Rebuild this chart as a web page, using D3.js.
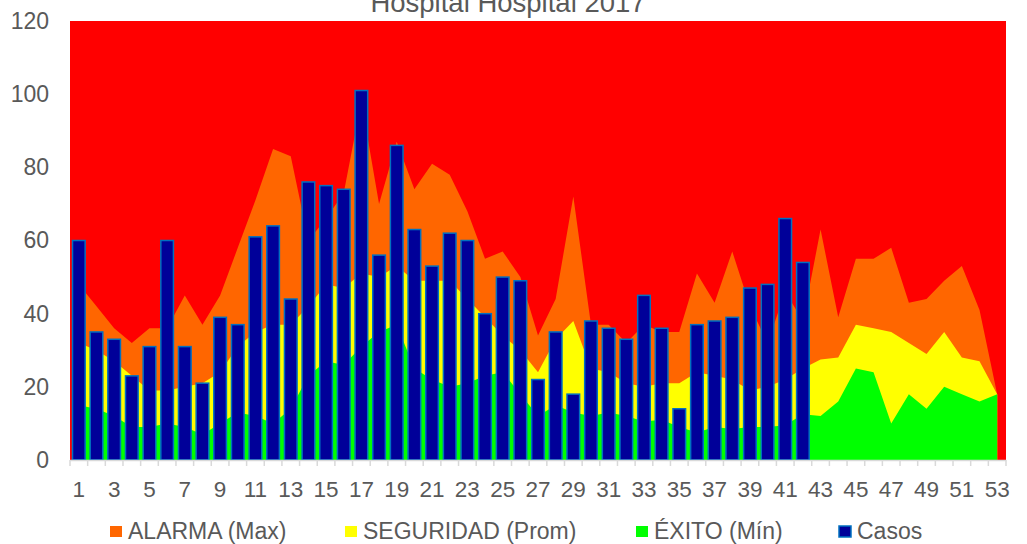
<!DOCTYPE html>
<meta charset="utf-8">
<script src="https://d3js.org/d3.v7.min.js"></script>
<style>
  body { margin: 0; background: #fff; }
  text { font-family: "Liberation Sans", Arial, sans-serif; fill: #595959; }
</style>
<svg id="chart" width="1027" height="544"></svg>
<script>

// week numbers 1..53
const weeks = d3.range(1, 54)

// cases (only weeks 1-42 reported)
const casos = [60,35,33,23,31,60,31,21,39,37,61,64,44,76,75,74,101,56,86,63,53,62,60,40,50,49,22,35,18,38,36,33,45,36,14,37,38,39,47,48,66,54]

// endemic channel
const alarma = [48,42,36,32,36,36,45,37,45,58,71,85,83,60,66,73,98,70,87,74,81,78,68,55,57,50,34,44,72,37,37,32,37,35,35,51,43,57,42,32,46,38,63,39,55,55,58,43,44,49,53,41,18]
const seguridad = [32,30,27,23,19,19,20,21,24,31,35,37,37,42,48,47,51,50,53,49,49,49,44,39,34,30,24,33,38,25,24,21,20,21,21,24,23,22,19,20,22,25,27.5,28,37,36,35,32,29,35,28,27,18]
const exito = [15,14,12,9,9,10,9,7,10,13,12,10,14,23,27,26,31,35,37,25,22,20,21,23,24,18,12,15,13,12,13,12,10.5,11,9,7.5,9,8.5,9,9,9.5,12.5,12,16,25,24,10,18,14,20,18,16,18]

const yTicks = [0, 20, 40, 60, 80, 100, 120]
const xLabels = weeks.filter(d => d % 2 === 1)

const svg = d3.select("#chart")

const plotLeft = 70, plotRight = 1006, plotTop = 21, plotBottom = 460

const x = d3.scaleBand().domain(weeks).range([plotLeft, plotRight])
const bw = x.bandwidth()
const y = d3.scaleLinear().domain([0, 120]).range([plotBottom, plotTop])

// title (partly cut at the top, as in the source)
svg.append("text")
    .attr("x", 508)
    .attr("y", 12)
    .attr("text-anchor", "middle")
    .style("font-size", "27.5px")
    .text("Hospital Hospital 2017")

// red plot background
svg.append("rect")
    .attr("x", plotLeft).attr("y", plotTop)
    .attr("width", plotRight - plotLeft).attr("height", plotBottom - plotTop)
    .attr("fill", "#FF0000")

// areas
const series = [
  { name: "ALARMA (Max)", values: alarma, color: "#FF6600" },
  { name: "SEGURIDAD (Prom)", values: seguridad, color: "#FFFF00" },
  { name: "ÉXITO (Mín)", values: exito, color: "#00FF00" }
]

const area = d3.area()
    .x((d, i) => x(weeks[i]) + bw / 2)
    .y0(y(0))
    .y1(d => y(d))

svg.append("g")
  .selectAll("path")
  .data(series)
  .join("path")
    .attr("d", d => area(d.values))
    .attr("fill", d => d.color)

// bars
const barW = bw / 1.4
svg.append("g")
  .selectAll("rect")
  .data(casos)
  .join("rect")
    .attr("x", (d, i) => x(weeks[i]) + (bw - barW) / 2)
    .attr("y", d => y(d))
    .attr("width", barW)
    .attr("height", d => y(0) - y(d))
    .attr("fill", "#000099")
    .attr("stroke", "#0070C0")
    .attr("stroke-width", 1.5)

// x axis line + ticks between categories
const xAxisG = svg.append("g")
xAxisG.append("line")
    .attr("x1", plotLeft).attr("x2", plotRight)
    .attr("y1", plotBottom + 0.5).attr("y2", plotBottom + 0.5)
    .attr("stroke", "#D9D9D9").attr("stroke-width", 1.5)
xAxisG.selectAll("line.tick")
  .data(d3.range(weeks.length + 1))
  .join("line")
    .attr("class", "tick")
    .attr("x1", i => plotLeft + i * bw).attr("x2", i => plotLeft + i * bw)
    .attr("y1", plotBottom).attr("y2", plotBottom + 6)
    .attr("stroke", "#D9D9D9").attr("stroke-width", 1.5)

// x labels
svg.append("g")
    .attr("transform", `translate(0,${plotBottom})`)
    .call(d3.axisBottom(x).tickValues(xLabels).tickSize(0).tickPadding(21))
    .call(g => g.select(".domain").remove())
    .call(g => g.attr("font-family", null))
    .selectAll("text")
      .style("font-size", "22.5px")
      .style("fill", "#595959")

// y labels
svg.append("g")
    .attr("transform", `translate(${plotLeft},0)`)
    .call(d3.axisLeft(y).tickValues(yTicks).tickSize(0).tickPadding(21))
    .call(g => g.select(".domain").remove())
    .call(g => g.attr("font-family", null))
    .selectAll("text")
      .style("font-size", "23px")
      .style("fill", "#595959")

// legend
const legendItems = [
  { name: series[0].name, color: series[0].color, stroke: "none", x: 110 },
  { name: series[1].name, color: series[1].color, stroke: "none", x: 345 },
  { name: series[2].name, color: series[2].color, stroke: "none", x: 636 },
  { name: "Casos", color: "#000099", stroke: "#0070C0", x: 839 }
]

const lg = svg.append("g")
  .selectAll("g")
  .data(legendItems)
  .join("g")
    .attr("transform", d => `translate(${d.x},0)`)

lg.append("rect")
    .attr("x", 0).attr("y", 526)
    .attr("width", 12).attr("height", 11)
    .attr("fill", d => d.color)
    .attr("stroke", d => d.stroke)
    .attr("stroke-width", 1.5)

lg.append("text")
    .attr("x", 18)
    .attr("y", 539)
    .style("font-size", "23px")
    .text(d => d.name)

</script>
